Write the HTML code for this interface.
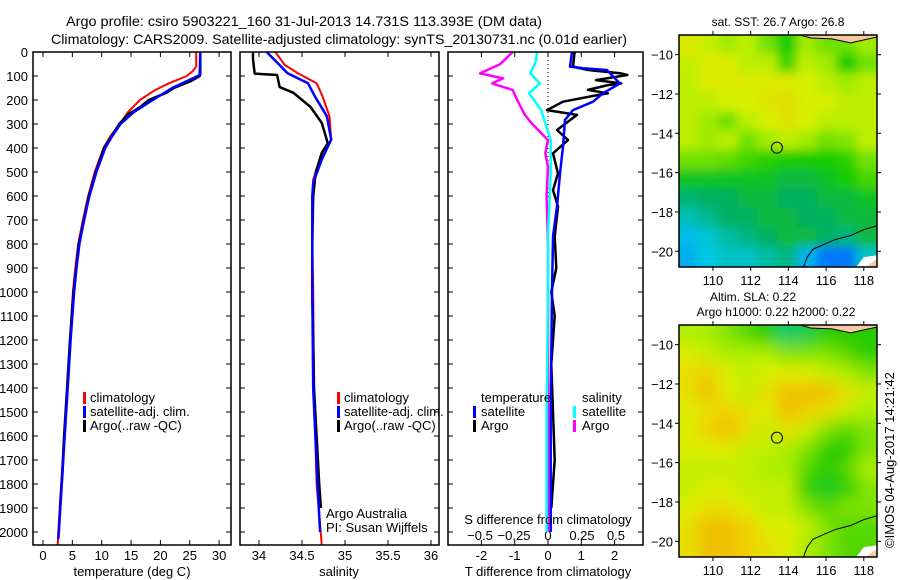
<!DOCTYPE html>
<html><head><meta charset="utf-8"><style>
html,body{margin:0;padding:0;background:#fff}
svg{display:block;font-family:"Liberation Sans",sans-serif}
text{fill:#000}
</style></head><body>
<svg id="fig" width="900" height="580" viewBox="0 0 900 580" xmlns="http://www.w3.org/2000/svg">
<defs>
<clipPath id="cp1"><rect x="33" y="52" width="198" height="493"/></clipPath>
<clipPath id="cp2"><rect x="240" y="52" width="199" height="493"/></clipPath>
<clipPath id="cp3"><rect x="448" y="52" width="195" height="493"/></clipPath>
<clipPath id="cm1"><rect x="679" y="35" width="198" height="232"/></clipPath>
<clipPath id="cm2"><rect x="679" y="325" width="198" height="232"/></clipPath>
<filter id="bl1" x="-20%" y="-20%" width="140%" height="140%"><feGaussianBlur stdDeviation="5"/></filter>
<filter id="bl2" x="-20%" y="-20%" width="140%" height="140%"><feGaussianBlur stdDeviation="8"/></filter>
</defs>
<text x="66" y="26" font-size="14" textLength="476" lengthAdjust="spacingAndGlyphs">Argo profile: csiro 5903221_160 31-Jul-2013 14.731S 113.393E (DM data)</text>
<text x="51" y="44" font-size="14" textLength="576" lengthAdjust="spacingAndGlyphs">Climatology: CARS2009. Satellite-adjusted climatology: synTS_20130731.nc (0.01d earlier)</text>
<text transform="translate(894,548) rotate(-90)" font-size="13">©IMOS 04-Aug-2017 14:21:42</text>
<g id="root"></g>
</svg>
<script>
// ---- data ----
const depthTClim = [0,60,80,100,130,160,200,250,300,350,400,500,600,700,800,900,1000,1200,1400,1600,1800,2000,2055];
const tempClim = [26.1,26.1,25.5,24.5,21.5,19,16.5,14.5,13.1,11.5,10.3,8.8,7.7,6.8,6.0,5.5,5.1,4.6,4.1,3.6,3.1,2.6,2.5];
const depthTSat = [0,95,110,150,200,250,300,350,400,500,600,700,800,900,1000,1200,1400,1600,1800,2000,2030];
const tempSat = [26.8,26.8,25.5,22.0,18.7,15.5,13.2,11.8,10.6,9.1,7.9,7.0,6.2,5.7,5.3,4.7,4.2,3.7,3.2,2.7,2.6];
const depthTArgo = [0,100,120,150,170,200,230,260,300,400,500,600,800,1000,1200,1400,1600,1750,1900];
const tempArgo = [26.8,26.7,25.3,22.3,21.0,18.0,16.5,14.5,13.0,10.4,9.0,7.8,6.1,5.2,4.6,4.1,3.6,3.3,2.9];

const depthSClim = [0,54,88,130,185,268,365,448,531,600,800,1000,1400,1800,2055];
const salClim = [34.19,34.30,34.45,34.67,34.74,34.82,34.84,34.71,34.63,34.62,34.62,34.63,34.64,34.67,34.73];
const depthSSat = [0,54,88,130,185,268,365,448,545,600,800,1000,1400,1800,2000];
const salSat = [34.09,34.24,34.33,34.57,34.65,34.79,34.84,34.73,34.63,34.62,34.62,34.62,34.63,34.68,34.71];
const depthSArgo = [0,30,90,96,146,170,229,296,380,420,500,600,800,1000,1400,1800,1900];
const salArgo = [33.93,33.93,33.95,34.21,34.24,34.4,34.6,34.73,34.8,34.73,34.66,34.63,34.62,34.62,34.64,34.70,34.72];

const depthTdSat = [0,61,68,75,131,172,207,242,283,394,506,644,769,1000,1500,2000];
const tdiffSat = [0.72,0.66,1.05,1.77,2.16,1.65,1.35,0.75,0.51,0.45,0.36,0.27,0.15,0.12,0.08,0.08];
const depthTdArgo = [0,61,75,89,96,117,131,138,158,172,179,207,242,262,325,367,422,506,575,644,769,900,1000,1100,1300,1500,1700,1900];
const tdiffArgo = [0.8,0.75,1.2,2.2,2.38,1.44,2.2,1.8,1.2,1.8,1.5,0.45,-0.03,0.87,0.27,0.6,0.15,0.3,0.15,0.3,0.2,0.25,0.1,0.2,0.1,0.15,0.2,0.1];
const depthSdSat = [0,40,89,131,172,242,297,367,506,769,1000,1500,2000];
const sdiffSat = [-0.08,-0.09,-0.13,-0.06,-0.14,-0.05,-0.02,0.02,0.02,0.0,0.0,-0.01,-0.01];
const depthSdArgo = [0,50,89,110,131,158,207,262,297,367,422,478,600,800,1200,2000];
const sdiffArgo = [-0.26,-0.35,-0.5,-0.33,-0.41,-0.26,-0.22,-0.17,-0.12,0.0,-0.02,0.0,-0.01,0.0,0.0,0.0];

const depthTicks = [0,100,200,300,400,500,600,700,800,900,1000,1100,1200,1300,1400,1500,1600,1700,1800,1900,2000];
const tempTicks = [0,5,10,15,20,25,30];
const salTicks = [34,34.5,35,35.5,36];
const tdTicks = [-2,-1,0,1,2];
const sdTicks = [-0.5,-0.25,0,0.25,0.5];
const latTicks = [-10,-12,-14,-16,-18,-20];
const lonTicks = [110,112,114,116,118];

const sstGrid = [
[.88,.82,.75,.8,.7,.6,.75,.7,.7,.75],
[.82,.87,.87,.8,.8,.65,.8,.75,.6,.7],
[.8,.87,.87,.87,.87,.87,.85,.8,.75,.8],
[.8,.8,.85,.85,.9,.92,.85,.85,.8,.8],
[.8,.75,.7,.8,.85,.9,.85,.8,.8,.8],
[.8,.75,.8,.7,.75,.8,.75,.7,.72,.8],
[.7,.7,.68,.65,.62,.6,.6,.6,.62,.7],
[.55,.55,.55,.55,.55,.5,.5,.55,.6,.65],
[.42,.45,.45,.5,.5,.45,.45,.5,.5,.55],
[.32,.38,.45,.45,.5,.5,.45,.45,.5,.5],
[.22,.28,.35,.4,.45,.5,.5,.45,.4,.5],
[.18,.25,.3,.3,.35,.4,.2,.05,.05,.3]];
const slaGrid = [
[.65,.65,.6,.55,.5,.35,.4,.5,.5,.5],
[.75,.7,.65,.65,.65,.6,.6,.6,.55,.5],
[.8,.85,.75,.7,.75,.75,.75,.7,.65,.6],
[.8,.9,.75,.7,.8,.9,.9,.9,.8,.7],
[.75,.8,.85,.8,.75,.9,.85,.8,.7,.65],
[.75,.85,.9,.8,.7,.8,.7,.6,.55,.6],
[.75,.75,.75,.7,.7,.65,.6,.5,.5,.6],
[.7,.7,.7,.7,.65,.65,.55,.5,.55,.65],
[.7,.75,.75,.7,.7,.7,.5,.45,.5,.6],
[.75,.8,.8,.75,.7,.7,.6,.55,.6,.6],
[.8,.9,.9,.85,.75,.75,.7,.6,.55,.55],
[.8,.9,.9,.85,.8,.75,.65,.6,.55,.55]];
const coastLon = [114.8,115.0,115.3,116.0,116.5,117.3,118.0,118.7];
const coastLat = [-20.8,-20.3,-19.9,-19.6,-19.4,-19.2,-18.9,-18.7];
const argoLon = 113.393, argoLat = -14.731;

// ---- helpers ----
const NS = "http://www.w3.org/2000/svg";
const root = document.getElementById('root');
function mk(tag, attrs, parent){
  const e = document.createElementNS(NS, tag);
  for (const k in attrs) e.setAttribute(k, attrs[k]);
  (parent||root).appendChild(e);
  return e;
}
const yD = d => 52 + d*0.24;
const xT = t => 43 + t*5.87;
const xS = s => 259 + (s-34)*86;
const xTd = t => 548 + t*33.3;
const xSd = s => 548 + s*136;

function line(xs, ds, fx, color, w, clip, name){
  const pts = xs.map((v,i)=>fx(v).toFixed(1)+','+yD(ds[i]).toFixed(1)).join(' ');
  const e = mk('polyline',{points:pts,fill:'none',stroke:color,'stroke-width':w,'clip-path':'url(#'+clip+')','stroke-linejoin':'round'});
  
  
}
function txt(x,y,s,opts,name){
  const e = mk('text',Object.assign({x:x,y:y,'font-size':13},opts||{}));
  e.textContent = s;
  
  
  return e;
}
function frame(x,y,w,h,name){
  const e = mk('rect',{x:x,y:y,width:w,height:h,fill:'none',stroke:'#000','stroke-width':1.5});
  
  
}
function tick(x1,y1,x2,y2){
  const e = mk('line',{x1:x1,y1:y1,x2:x2,y2:y2,stroke:'#000','stroke-width':1});
  
  
}
function legBar(x,y,color){
  const e = mk('rect',{x:x,y:y-10,width:3,height:12,fill:color});
  
  
}

// ---- depth axis + ticks ----
const panels = [[33,231],[240,439],[448,643]];
depthTicks.forEach(d=>{
  txt(28, yD(d)+5, String(d), {'text-anchor':'end'}, 'y-tick-label');
  panels.forEach(p=>{ tick(p[0],yD(d),p[0]+5,yD(d)); tick(p[1],yD(d),p[1]-5,yD(d)); });
});

// ---- temperature panel ----
tempTicks.forEach(t=>{
  tick(xT(t),545,xT(t),540); tick(xT(t),52,xT(t),57);
  txt(xT(t),560,String(t),{'text-anchor':'middle'},'temperature-tick-label');
});
line(tempClim, depthTClim, xT, '#ff0000', 2, 'cp1', 'temperature-climatology-line');
line(tempArgo, depthTArgo, xT, '#000000', 2.5, 'cp1', 'temperature-argo-line');
line(tempSat, depthTSat, xT, '#0000ff', 2.5, 'cp1', 'temperature-satellite-line');
frame(33,52,198,493,'temperature-panel');
txt(132,576,'temperature (deg C)',{'text-anchor':'middle'},'temperature-axis-title');
legBar(83,402,'#ff0000'); txt(90,402,'climatology',{},'legend-climatology');
legBar(83,416,'#0000ff'); txt(90,416,'satellite-adj. clim.',{},'legend-satellite');
legBar(83,430,'#000'); txt(90,430,'Argo(..raw -QC)',{},'legend-argo');

// ---- salinity panel ----
salTicks.forEach(s=>{
  tick(xS(s),545,xS(s),540); tick(xS(s),52,xS(s),57);
  txt(xS(s),560,String(s),{'text-anchor':'middle'},'salinity-tick-label');
});
line(salClim, depthSClim, xS, '#ff0000', 2, 'cp2', 'salinity-climatology-line');
line(salArgo, depthSArgo, xS, '#000000', 2.5, 'cp2', 'salinity-argo-line');
line(salSat, depthSSat, xS, '#0000ff', 2.5, 'cp2', 'salinity-satellite-line');
frame(240,52,199,493,'salinity-panel');
txt(339,576,'salinity',{'text-anchor':'middle'},'salinity-axis-title');
legBar(337,402,'#ff0000'); txt(344,402,'climatology',{},'legend-climatology');
legBar(337,416,'#0000ff'); txt(344,416,'satellite-adj. clim.',{},'legend-satellite');
legBar(337,430,'#000'); txt(344,430,'Argo(..raw -QC)',{},'legend-argo');
txt(326,518,'Argo Australia',{},'credit-argo-australia');
txt(326,532,'PI: Susan Wijffels',{},'credit-pi');

// ---- difference panel ----
tdTicks.forEach(t=>{
  tick(xTd(t),545,xTd(t),540); tick(xTd(t),52,xTd(t),57);
  txt(xTd(t),560,String(t),{'text-anchor':'middle'},'t-diff-tick-label');
});
sdTicks.forEach(s=>{
  txt(xSd(s),540,String(s).replace('-','\u2212'),{'text-anchor':'middle'},'s-diff-tick-label');
});
{ const e = mk('line',{x1:548,y1:52,x2:548,y2:200,stroke:'#000','stroke-width':1,'stroke-dasharray':'1,3'});
    }
line(sdiffArgo, depthSdArgo, xSd, '#ff00ff', 2.5, 'cp3', 'salinity-diff-argo-line');
line(sdiffSat, depthSdSat, xSd, '#00ffff', 2.5, 'cp3', 'salinity-diff-satellite-line');
line(tdiffArgo, depthTdArgo, xTd, '#000000', 2.5, 'cp3', 'temperature-diff-argo-line');
line(tdiffSat, depthTdSat, xTd, '#0000ff', 2.5, 'cp3', 'temperature-diff-satellite-line');
frame(448,52,195,493,'difference-panel');
txt(548,524,'S difference from climatology',{'text-anchor':'middle'},'s-diff-axis-title');
txt(548,576,'T difference from climatology',{'text-anchor':'middle'},'t-diff-axis-title');
txt(481,402,'temperature',{},'legend-temperature-heading');
txt(582,402,'salinity',{},'legend-salinity-heading');
legBar(473,416,'#0000ff'); txt(481,416,'satellite',{},'legend-t-satellite');
legBar(473,430,'#000'); txt(481,430,'Argo',{},'legend-t-argo');
legBar(573,416,'#00ffff'); txt(582,416,'satellite',{},'legend-s-satellite');
legBar(573,430,'#ff00ff'); txt(582,430,'Argo',{},'legend-s-argo');

// ---- maps ----
const LON0=108.2, LON1=118.7, LAT0=-9.0, LAT1=-20.8;
function cmapSST(v){
  const st=[[0,[0,100,255]],[0.25,[0,200,230]],[0.45,[0,176,96]],[0.6,[20,204,0]],[0.75,[160,235,0]],[0.85,[215,240,0]],[1,[235,200,0]]];
  return interp(st,v);
}
function cmapSLA(v){
  const st=[[0.3,[0,200,140]],[0.5,[40,204,0]],[0.65,[170,238,0]],[0.75,[220,238,0]],[0.85,[240,208,0]],[0.95,[240,176,0]]];
  return interp(st,v);
}
function interp(st,v){
  if(v<=st[0][0]) return 'rgb('+st[0][1]+')';
  for(let i=1;i<st.length;i++){ if(v<=st[i][0]){ const a=st[i-1],b=st[i],f=(v-a[0])/(b[0]-a[0]);
    return 'rgb('+a[1].map((c,j)=>Math.round(c+(b[1][j]-c)*f)).join(',')+')'; } }
  return 'rgb('+st[st.length-1][1]+')';
}
function drawMap(top, grid, cmap, clip, blur, name){
  const lx = lon => 679 + (lon-LON0)*(198/(LON1-LON0));
  const ly = lat => top + (LAT0-lat)*(232/(LAT0-LAT1));
  const g = mk('g',{'clip-path':'url(#'+clip+')'});
  
  
  const inner = mk('g',{filter:'url(#'+blur+')'},g);
  const rows=grid.length, cols=grid[0].length, cw=198/cols, ch=232/rows;
  grid.forEach((row,r)=>row.forEach((v,c)=>{
    const e = mk('rect',{x:679+c*cw-1-(c==0?12:0),y:top+r*ch-1-(r==0?12:0),width:cw+2+(c==0||c==cols-1?12:0),height:ch+2+(r==0||r==rows-1?12:0),fill:cmap(v)},inner);
    
    
  }));
  const p1 = mk('polygon',{points:lx(118.1)+','+ly(-20.8)+' '+lx(118.7)+','+ly(-20.4)+' '+lx(118.7)+','+ly(-20.8),fill:'#f8c8a0'},g);
   
  const p2 = mk('polygon',{points:lx(117.6)+','+ly(-20.8)+' '+lx(118.0)+','+ly(-20.3)+' '+lx(118.7)+','+ly(-20.2)+' '+lx(118.7)+','+ly(-20.4)+' '+lx(118.1)+','+ly(-20.8),fill:'#ffffff'},g);
   
  const p3 = mk('polygon',{points:lx(114.6)+','+ly(-9)+' '+lx(118.7)+','+ly(-9)+' '+lx(118.7)+','+ly(-9.1)+' '+lx(117.3)+','+ly(-9.4)+' '+lx(116.3)+','+ly(-9.2)+' '+lx(115.2)+','+ly(-9.15),fill:'#f8c8a0',stroke:'#000','stroke-width':1},g);
   
  const cl = mk('polyline',{points:coastLon.map((l,i)=>lx(l)+','+ly(coastLat[i])).join(' '),fill:'none',stroke:'#000','stroke-width':1},g);
   
  const circ = mk('circle',{cx:lx(argoLon),cy:ly(argoLat),r:5.5,fill:'none',stroke:'#000','stroke-width':1});
  
  
  frame(679,top,198,232,name+'-frame');
  latTicks.forEach(l=>{ tick(679,ly(l),675,ly(l)); tick(877,ly(l),881,ly(l));
    txt(673,ly(l)+5,String(l).replace('-','\u2212'),{'text-anchor':'end'},'lat-tick-label'); });
  lonTicks.forEach(l=>{ tick(lx(l),top,lx(l),top-4); tick(lx(l),top+232,lx(l),top+236);
    txt(lx(l),top+250,String(l),{'text-anchor':'middle'},'lon-tick-label'); });
}
drawMap(35, sstGrid, cmapSST, 'cm1', 'bl1', 'sst-map');
txt(778,26,'sat. SST: 26.7 Argo: 26.8',{'text-anchor':'middle','font-size':12},'sst-map-title');
drawMap(325, slaGrid, cmapSLA, 'cm2', 'bl2', 'sla-map');
txt(753,301,'Altim. SLA: 0.22',{'text-anchor':'middle','font-size':12},'sla-map-title');
txt(776,316,'Argo h1000: 0.22 h2000: 0.22',{'text-anchor':'middle','font-size':12},'sla-map-subtitle');
</script>
</body></html>
